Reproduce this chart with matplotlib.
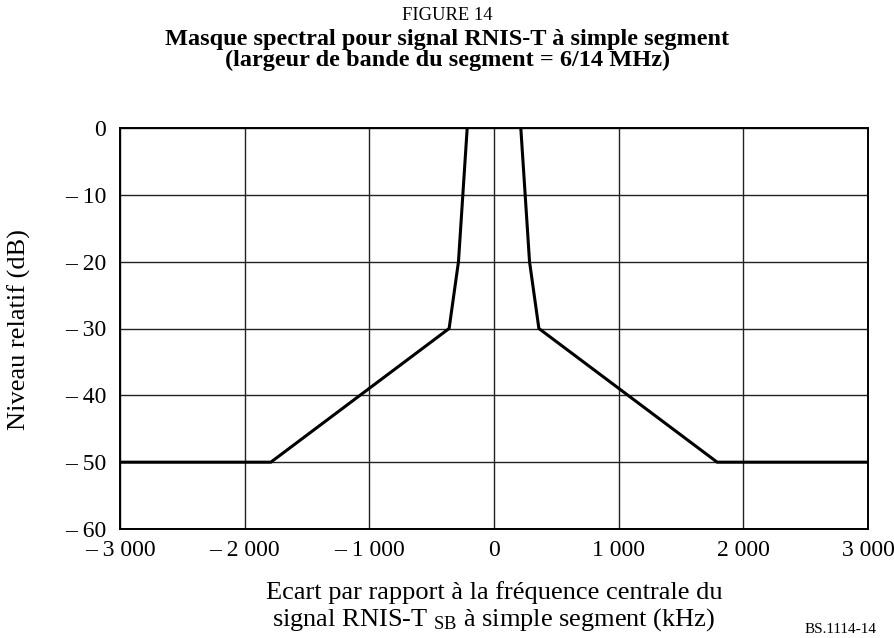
import matplotlib
matplotlib.use("Agg")
import matplotlib.pyplot as plt

plt.rcParams['font.family'] = ['Liberation Serif', 'DejaVu Serif']
plt.rcParams['mathtext.fontset'] = 'custom'
plt.rcParams['mathtext.rm'] = 'Liberation Serif'
plt.rcParams['mathtext.it'] = 'Liberation Serif:italic'
plt.rcParams['mathtext.bf'] = 'Liberation Serif:bold'

# Mask data (kHz offset, dB)
freq_khz = [-3000, -1790, -360, -285, -215, 215, 285, 360, 1790, 3000]
level_db = [-50, -50, -30, -20, 0, 0, -20, -30, -50, -50]

x_ticks = [-3000, -2000, -1000, 0, 1000, 2000, 3000]
x_tick_labels = ['– 3 000', '– 2 000', '– 1 000', '0', '1 000', '2 000', '3 000']
y_ticks = [0, -10, -20, -30, -40, -50, -60]
y_tick_labels = ['0', '– 10', '– 20', '– 30', '– 40', '– 50', '– 60']

fig = plt.figure(figsize=(8.95, 6.38), dpi=100)
ax = fig.add_axes([120/895, 1-529/638, (868-120)/895, (529-128)/638])

n = len(freq_khz) // 2
ax.plot(freq_khz[:n], level_db[:n], color='black', lw=2.2, solid_joinstyle='miter', zorder=3)
ax.plot(freq_khz[n:], level_db[n:], color='black', lw=2.2, solid_joinstyle='miter', zorder=3)

ax.set_xlim(-3000, 3000)
ax.set_ylim(-60, 0)
ax.set_xticks(x_ticks)
ax.set_xticklabels(x_tick_labels)
ax.set_yticks(y_ticks)
ax.set_yticklabels(y_tick_labels)
ax.tick_params(length=0, labelsize=17)
ax.tick_params(axis='y', pad=10)
ax.tick_params(axis='x', pad=8)
ax.grid(True, color='#222222', lw=1.0)
for s in ax.spines.values():
    s.set_color('black')
    s.set_linewidth(1.4)
ax.set_axisbelow(True)

fig.text(19/895, 1-330/638, 'Niveau relatif (dB)', rotation=90, ha='center', va='center', fontsize=19)

fig.text(0.5, 1-15/638, 'FIGURE 14', ha='center', va='center', fontsize=13.3)
fig.text(0.5, 1-50/638, 'Masque spectral pour signal RNIS-T à simple segment\n(largeur de bande du segment = 6/14 MHz)',
         ha='center', va='center', fontsize=17.5, fontweight='bold', linespacing=1.0)
fig.text(494/895, 1-607/638,
         'Ecart par rapport à la fréquence centrale du\nsignal RNIS-T $_{\\mathrm{SB}}$ à simple segment (kHz)',
         ha='center', va='center', fontsize=19, linespacing=1.1)
fig.text(805/895, 1-636/638, 'BS.1114-14', ha='left', va='bottom', fontsize=11)

fig.savefig('out.png', dpi=100)
